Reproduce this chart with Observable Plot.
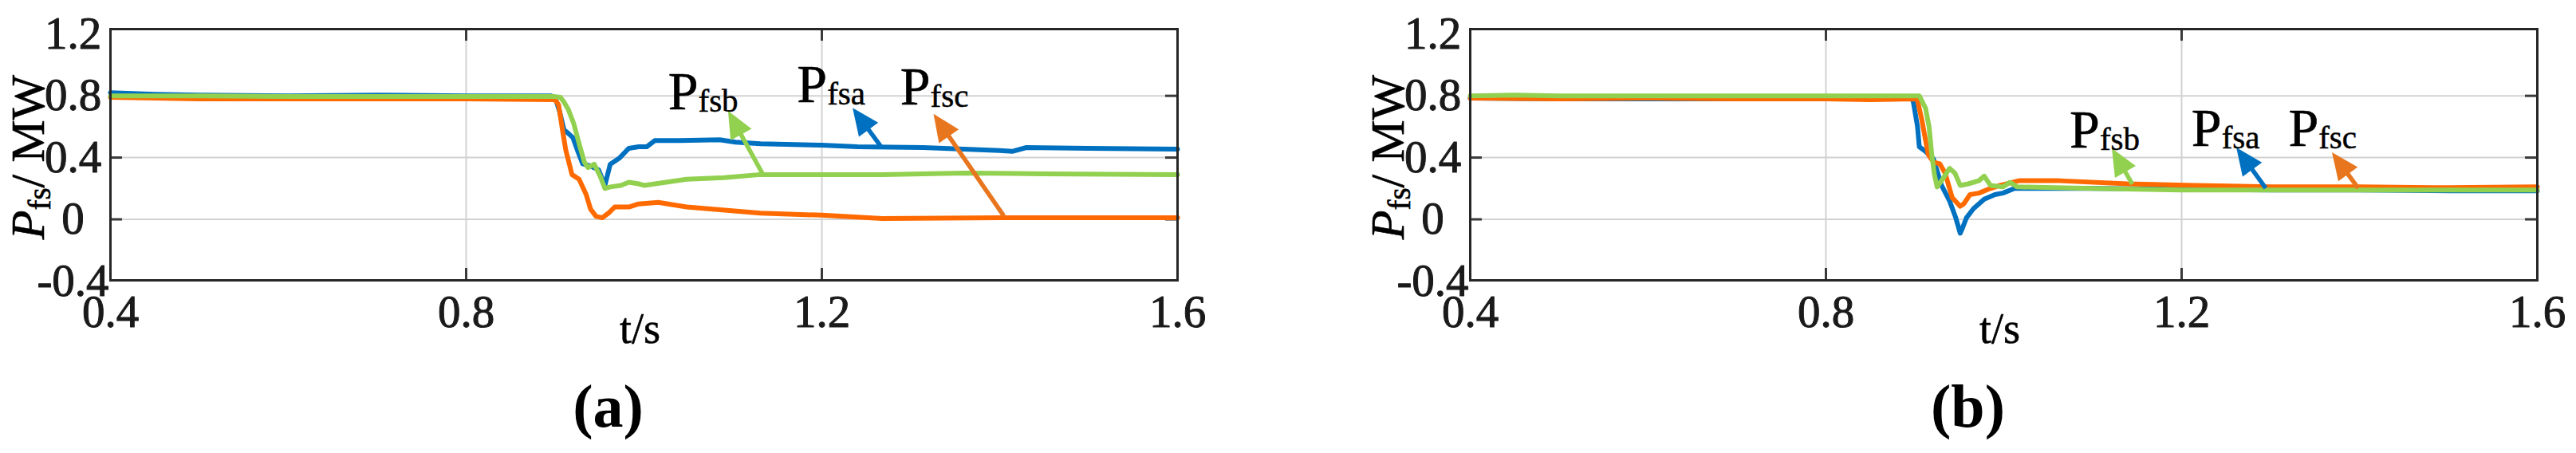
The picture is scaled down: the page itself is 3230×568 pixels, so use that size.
<!DOCTYPE html>
<html><head><meta charset="utf-8">
<script src="https://cdn.jsdelivr.net/npm/d3@7"></script>
<script src="https://cdn.jsdelivr.net/npm/@observablehq/plot@0.6"></script>
<style>
body{margin:0;background:#fff;}
#wrap{display:flex;width:3230px;height:568px;}
#wrap svg{display:block;flex:none;font-family:"Liberation Serif","Times New Roman",serif;}
#wrap svg text{font-family:"Liberation Serif","Times New Roman",serif;}
</style></head><body><div id="wrap"></div>
<script>
const SERIF = "Liberation Serif";

// axis ticks and grid
const xTicks = [0.4, 0.8, 1.2, 1.6];
const yTicks = [-0.4, 0, 0.4, 0.8, 1.2];
const xGrid = [0.8, 1.2];
const yGrid = [0, 0.4, 0.8];
const xLabel = "t/s";
const panelTags = ["(a)", "(b)"];

// panel (a) series: [t (s), P (MW)]
const aFsa = [[0.4,0.82],[0.45,0.81],[0.5,0.805],[0.6,0.80],[0.7,0.805],[0.8,0.80],[0.895,0.80],[0.900,0.79],[0.905,0.70],[0.910,0.58],[0.915,0.556],[0.92,0.53],[0.925,0.45],[0.931,0.36],[0.94,0.345],[0.949,0.32],[0.956,0.22],[0.962,0.357],[0.972,0.395],[0.983,0.46],[0.994,0.47],[1.003,0.47],[1.012,0.51],[1.04,0.51],[1.085,0.515],[1.103,0.50],[1.131,0.49],[1.2,0.48],[1.24,0.47],[1.314,0.465],[1.40,0.445],[1.414,0.44],[1.43,0.465],[1.5,0.46],[1.6,0.455]];
const aFsc = [[0.4,0.79],[0.45,0.785],[0.5,0.78],[0.6,0.78],[0.7,0.78],[0.8,0.78],[0.9,0.775],[0.904,0.74],[0.908,0.59],[0.912,0.45],[0.919,0.29],[0.927,0.26],[0.935,0.16],[0.94,0.065],[0.946,0.02],[0.953,0.01],[0.96,0.04],[0.967,0.08],[0.983,0.08],[0.994,0.10],[1.016,0.11],[1.048,0.08],[1.131,0.04],[1.2,0.027],[1.268,0.005],[1.4,0.01],[1.6,0.01]];
const aFsb = [[0.4,0.80],[0.5,0.80],[0.6,0.795],[0.7,0.795],[0.8,0.795],[0.9,0.795],[0.906,0.79],[0.91,0.76],[0.915,0.71],[0.921,0.62],[0.928,0.47],[0.933,0.37],[0.937,0.335],[0.944,0.357],[0.951,0.276],[0.956,0.20],[0.962,0.21],[0.974,0.22],[0.983,0.24],[0.994,0.23],[1.0,0.22],[1.048,0.26],[1.09,0.27],[1.131,0.29],[1.2,0.29],[1.268,0.29],[1.36,0.30],[1.45,0.295],[1.6,0.29]];

// panel (b) series
const bFsa = [[0.4,0.785],[0.5,0.78],[0.6,0.78],[0.7,0.78],[0.8,0.78],[0.895,0.78],[0.898,0.77],[0.903,0.60],[0.905,0.47],[0.912,0.44],[0.921,0.39],[0.93,0.22],[0.939,0.12],[0.946,0.01],[0.951,-0.09],[0.954,-0.05],[0.958,0.01],[0.966,0.07],[0.978,0.13],[0.99,0.16],[0.999,0.17],[1.012,0.20],[1.05,0.20],[1.1,0.20],[1.2,0.195],[1.3,0.19],[1.4,0.19],[1.5,0.185],[1.6,0.185]];
const bFsc = [[0.4,0.785],[0.5,0.78],[0.6,0.785],[0.7,0.78],[0.8,0.78],[0.85,0.775],[0.9,0.78],[0.903,0.77],[0.908,0.64],[0.915,0.42],[0.921,0.37],[0.928,0.36],[0.934,0.30],[0.942,0.14],[0.951,0.085],[0.955,0.10],[0.962,0.16],[0.972,0.17],[0.985,0.20],[0.996,0.22],[1.017,0.25],[1.063,0.25],[1.139,0.23],[1.215,0.22],[1.3,0.21],[1.4,0.21],[1.5,0.205],[1.6,0.21]];
const bFsb = [[0.4,0.80],[0.45,0.805],[0.5,0.80],[0.6,0.80],[0.7,0.80],[0.8,0.80],[0.9,0.80],[0.905,0.80],[0.912,0.72],[0.916,0.60],[0.919,0.42],[0.922,0.29],[0.925,0.21],[0.93,0.25],[0.939,0.33],[0.945,0.30],[0.951,0.22],[0.96,0.23],[0.972,0.25],[0.978,0.28],[0.985,0.22],[0.999,0.21],[1.007,0.24],[1.015,0.21],[1.1,0.20],[1.2,0.19],[1.3,0.19],[1.4,0.19],[1.5,0.19],[1.6,0.19]];

// annotation labels: subscript, anchor t, anchor P
const aLabels = [{sub:"fsb", t:1.061, v:0.713},{sub:"fsa", t:1.206, v:0.76},{sub:"fsc", t:1.322, v:0.744}];
const bLabels = [{sub:"fsb", t:1.108, v:0.467},{sub:"fsa", t:1.245, v:0.477},{sub:"fsc", t:1.354, v:0.477}];
// annotation arrows: tail (t1,v1) -> tip (t2,v2)
const aArrows = [{key:"fsb", t1:1.135, v1:0.28, t2:1.095, v2:0.70},{key:"fsa", t1:1.268, v1:0.46, t2:1.235, v2:0.72},{key:"fsc", t1:1.405, v1:0.02, t2:1.326, v2:0.68}];
const bArrows = [{key:"fsb", t1:1.145, v1:0.226, t2:1.122, v2:0.457},{key:"fsa", t1:1.295, v1:0.20, t2:1.262, v2:0.462},{key:"fsc", t1:1.399, v1:0.20, t2:1.3695, v2:0.431}];

const lineColor = {fsa:"#0070C0", fsb:"#92D050", fsc:"#FF6A00"};
const arrowColor = {fsa:"#0070C0", fsb:"#92D050", fsc:"#E8761E"};

function arrowMark(arrows) {
  return (index, scales) => {
    const g = d3.create("svg:g");
    for (const a of arrows) {
      const x1 = scales.x(a.t1), y1 = scales.y(a.v1), x2 = scales.x(a.t2), y2 = scales.y(a.v2);
      const dx = x2 - x1, dy = y2 - y1, len = Math.hypot(dx, dy);
      const ux = dx / len, uy = dy / len, L = 34, hw = 15;
      const bx = x2 - ux * L, by = y2 - uy * L;
      const c = arrowColor[a.key];
      g.append("line").attr("x1", x1).attr("y1", y1).attr("x2", bx + ux * 4).attr("y2", by + uy * 4)
        .attr("stroke", c).attr("stroke-width", 5.5);
      g.append("polygon")
        .attr("points", `${x2},${y2} ${bx - uy * hw},${by + ux * hw} ${bx + uy * hw},${by - ux * hw}`)
        .attr("fill", c);
    }
    return g.node();
  };
}

function makePanel(series, labels, arrows, tag, mL, mR) {
  const W = 1615, H = 568, mT = 36, mB = 217;
  const fw = W - mL - mR, fh = H - mT - mB;
  const fmt = d => d === 0 ? "0" : String(d);
  const ink = "#1a1a1a";
  const svg = Plot.plot({
    width: W, height: H,
    marginLeft: mL, marginRight: mR, marginTop: mT, marginBottom: mB,
    x: {domain: [0.4, 1.6], label: null},
    y: {domain: [-0.395, 1.232], label: null},
    style: {fontFamily: SERIF, background: "white", color: "#262626", overflow: "visible"},
    marks: [
      Plot.ruleX(xGrid, {stroke: "#d2d2d2", strokeWidth: 2}),
      Plot.ruleY(yGrid, {stroke: "#d2d2d2", strokeWidth: 2}),
      Plot.ruleY(yGrid, {stroke: "#3a3a3a", strokeWidth: 3, insetRight: fw - 15}),
      Plot.ruleY(yGrid, {stroke: "#3a3a3a", strokeWidth: 3, insetLeft: fw - 15}),
      Plot.ruleX(xGrid, {stroke: "#3a3a3a", strokeWidth: 3, insetBottom: fh - 15}),
      Plot.ruleX(xGrid, {stroke: "#3a3a3a", strokeWidth: 3, insetTop: fh - 15}),
      ...series.map(([key, data]) => Plot.line(data, {x: d => d[0], y: d => d[1], stroke: lineColor[key], strokeWidth: 6, strokeLinejoin: "round", strokeLinecap: "round"})),
      arrowMark(arrows),
      Plot.text(labels, {x: "t", y: "v", text: () => "P", textAnchor: "end", lineAnchor: "bottom", fontSize: 68, fontFamily: SERIF, fill: "black", stroke: "black", strokeWidth: 0.6}),
      Plot.text(labels, {x: "t", y: "v", text: "sub", textAnchor: "start", lineAnchor: "bottom", dy: 3, fontSize: 41, fontFamily: SERIF, fill: "black", stroke: "black", strokeWidth: 0.5}),
      Plot.frame({stroke: "#262626", strokeWidth: 3}),
      Plot.axisX(xTicks, {anchor: "bottom", label: null, tickSize: 0, tickPadding: 18, fontSize: 57, fontFamily: SERIF, tickFormat: fmt, fill: ink, textStroke: ink, textStrokeWidth: 1}),
      Plot.axisY(yTicks, {anchor: "left", label: null, tickSize: 0, tickPadding: 0, dx: -47, textAnchor: "middle", fontSize: 57, fontFamily: SERIF, tickFormat: fmt, fill: ink, textStroke: ink, textStrokeWidth: 1}),
      Plot.text([xLabel], {frameAnchor: "bottom", dx: -5, dy: 61, fontSize: 54, fontFamily: SERIF, lineAnchor: "middle", fill: "black", stroke: "black", strokeWidth: 0.6}),
      Plot.text([tag], {frameAnchor: "bottom", dx: -45, dy: 159, fontSize: 76, fontFamily: SERIF, fontWeight: "bold", lineAnchor: "middle", fill: "black"})
    ]
  });
  // y-axis title with italic P and subscript
  const t = d3.select(svg).append("text")
    .attr("transform", `translate(${mL - 83},197) rotate(-90)`)
    .attr("text-anchor", "middle").attr("font-family", SERIF).attr("font-size", 60)
    .attr("fill", "black").attr("stroke", "black").attr("stroke-width", 0.6);
  t.append("tspan").attr("font-style", "italic").text("P");
  t.append("tspan").attr("font-size", 39).attr("dy", 8).text("fs");
  t.append("tspan").attr("dy", -8).text("/ MW");
  return svg;
}

const wrap = document.getElementById("wrap");
wrap.append(makePanel([["fsa", aFsa], ["fsc", aFsc], ["fsb", aFsb]], aLabels, aArrows, panelTags[0], 138, 139));
wrap.append(makePanel([["fsa", bFsa], ["fsc", bFsc], ["fsb", bFsb]], bLabels, bArrows, panelTags[1], 228, 49));
</script></body></html>
